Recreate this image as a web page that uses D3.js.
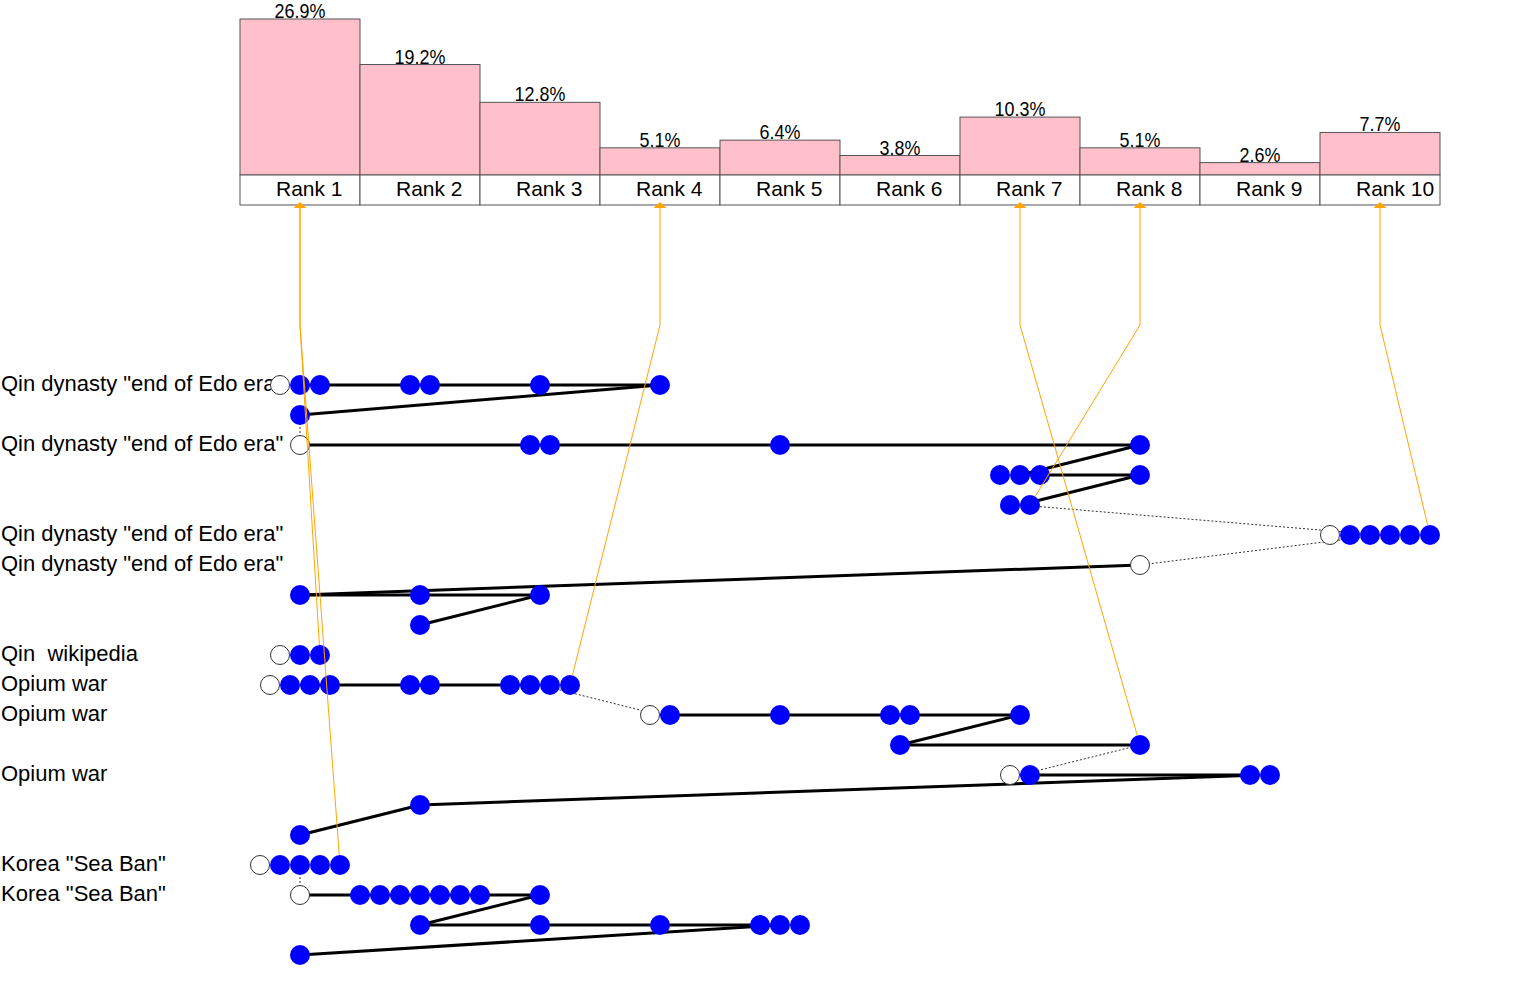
<!DOCTYPE html>
<html><head><meta charset="utf-8">
<script src="https://cdn.jsdelivr.net/npm/d3@7"></script>
<style>body{margin:0;background:#fff} svg{display:block}</style>
</head><body><svg id="c" width="1515" height="1000"></svg>
<script>
// ---------- data ----------
const rankLabels = ["Rank 1","Rank 2","Rank 3","Rank 4","Rank 5","Rank 6","Rank 7","Rank 8","Rank 9","Rank 10"];
const rankShare = [26.9, 19.2, 12.8, 5.1, 6.4, 3.8, 10.3, 5.1, 2.6, 7.7];

const rowLabels = [
  'Qin dynasty "end of Edo era"', '', 'Qin dynasty "end of Edo era"', '', '',
  'Qin dynasty "end of Edo era"', 'Qin dynasty "end of Edo era"', '', '',
  'Qin  wikipedia', 'Opium war', 'Opium war', '', 'Opium war', '', '',
  'Korea "Sea Ban"', 'Korea "Sea Ban"', '', ''
];
// each group: [rank, hasQuery (open circle), clicks (filled)]
const rowGroups = [
  [[1,1,2],[2,0,2],[3,0,1],[4,0,1]],
  [[1,0,1]],
  [[1,1,0],[3,0,2],[5,0,1],[8,0,1]],
  [[7,0,3],[8,0,1]],
  [[7,0,2]],
  [[10,1,5]],
  [[8,1,0]],
  [[1,0,1],[2,0,1],[3,0,1]],
  [[2,0,1]],
  [[1,1,2]],
  [[1,1,3],[2,0,2],[3,0,4]],
  [[4,1,1],[5,0,1],[6,0,2],[7,0,1]],
  [[6,0,1],[8,0,1]],
  [[7,1,1],[9,0,2]],
  [[2,0,1]],
  [[1,0,1]],
  [[1,1,4]],
  [[1,1,0],[2,0,7],[3,0,1]],
  [[2,0,1],[3,0,1],[4,0,1],[5,0,3]],
  [[1,0,1]]
];
// sessions: [firstRow, lastRow]
const sessions = [[0,8],[9,9],[10,15],[16,19]];
// orange links: [box rank, row, group rank, slot in group]
const orangeLinks = [
  [1, 9, 1, 2],
  [1, 16, 1, 4],
  [4, 10, 3, 3],
  [7, 12, 8, 0],
  [8, 4, 7, 1],
  [10, 5, 10, 5]
];

// ---------- scales ----------
const svg = d3.select("#c");
const x = d3.scaleBand().domain(d3.range(1, 11)).range([240, 1440]);
const cx = r => x(r) + x.bandwidth() / 2;
const yBar = d3.scaleLinear().domain([0.5, 26.9]).range([175, 19]);
const boxTop = 175, boxBot = 205, bendY = 325;
const yRow = d3.scaleLinear().domain([0, 1]).range([385, 415]);
const slotW = 20, R = 10;

function groupItems(g) {
  const n = g[1] + g[2];
  const items = [];
  for (let i = 0; i < n; i++) {
    items.push({ q: g[1] && i === 0, x: cx(g[0]) + (i - (n - 1) / 2) * slotW });
  }
  return items;
}

// ---------- bars ----------
const bars = svg.append("g");
rankShare.forEach((v, i) => {
  const r = i + 1;
  bars.append("rect").attr("x", x(r)).attr("y", yBar(v))
    .attr("width", x.bandwidth()).attr("height", yBar(0.5) - yBar(v))
    .attr("fill", "#FFC0CB").attr("stroke", "#555").attr("stroke-width", 1);
  bars.append("rect").attr("x", x(r)).attr("y", boxTop)
    .attr("width", x.bandwidth()).attr("height", boxBot - boxTop)
    .attr("fill", "#fff").attr("stroke", "#555").attr("stroke-width", 1);
  bars.append("text")
    .attr("transform", `translate(${cx(r)},${yBar(v) - 1}) scale(0.92,1)`)
    .attr("text-anchor", "middle")
    .style("font-family", "'Liberation Sans',Arial,sans-serif")
    .style("font-size", "19.5px").text(v.toFixed(1) + "%");
  bars.append("text").attr("x", x(r) + 36).attr("y", (boxTop + boxBot) / 2 + 5.5)
    .style("font-family", "'Liberation Sans',Arial,sans-serif")
    .style("font-size", "21px").text(rankLabels[i]);
});

// ---------- row labels ----------
svg.append("g").selectAll("text").data(rowLabels).join("text")
  .attr("x", 1).attr("y", (d, i) => yRow(i) + 5.5)
  .style("white-space", "pre")
  .style("font-family", "'Liberation Sans',Arial,sans-serif")
  .style("font-size", "22px").text(d => d);

// ---------- session paths ----------
const lines = svg.append("g");
sessions.forEach(([a, b]) => {
  const pts = [];
  for (let r = a; r <= b; r++) {
    rowGroups[r].forEach(g => pts.push({ x: cx(g[0]), y: yRow(r), q: g[1] }));
  }
  for (let k = 1; k < pts.length; k++) {
    const p = pts[k - 1], t = pts[k];
    const l = lines.append("line").attr("x1", p.x).attr("y1", p.y).attr("x2", t.x).attr("y2", t.y);
    if (t.q) l.attr("stroke", "#333").attr("stroke-width", 1).attr("stroke-dasharray", "2,2");
    else l.attr("stroke", "#000").attr("stroke-width", 3);
  }
});

// ---------- dots ----------
const dots = svg.append("g");
rowGroups.forEach((gs, r) => {
  gs.forEach(g => {
    groupItems(g).forEach(it => {
      const c = dots.append("circle").attr("cx", it.x).attr("cy", yRow(r));
      if (it.q) c.attr("r", R - 0.5).attr("fill", "#fff").attr("stroke", "#333").attr("stroke-width", 1);
      else c.attr("r", R).attr("fill", "#0000FF");
    });
  });
});

// ---------- orange links ----------
const og = svg.append("g");
orangeLinks.forEach(([br, row, gr, slot]) => {
  const g = rowGroups[row].find(d => d[0] === gr);
  const it = groupItems(g)[slot];
  const tx = it.x, ty = yRow(row);
  const sx = cx(br);
  const dx = tx - sx, dy = ty - bendY, len = Math.hypot(dx, dy);
  const ex = tx - dx / len * R, ey = ty - dy / len * R;
  og.append("path").attr("d", d3.line()([[sx, boxBot + 3], [sx, bendY], [ex, ey]]))
    .attr("fill", "none").attr("stroke", "#FFA500").attr("stroke-width", 1);
});
// arrow heads
Array.from(new Set(orangeLinks.map(d => d[0]))).forEach(br => {
  const sx = cx(br);
  og.append("path").attr("d", d3.line()([[sx, boxBot - 3], [sx - 6.5, boxBot + 3], [sx + 6.5, boxBot + 3]]) + "Z")
    .attr("fill", "#FFA500");
});
</script></body></html>
